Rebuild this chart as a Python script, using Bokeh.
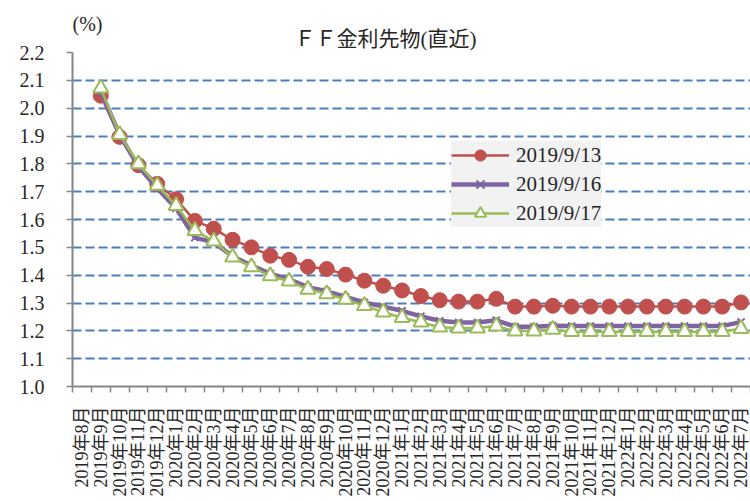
import math
from bokeh.plotting import figure
from bokeh.models import Range1d, FixedTicker, Title, PrintfTickFormatter, ColumnDataSource
from bokeh.embed import file_html
from bokeh.resources import INLINE

# ---- data ----
months = []
for yr, m0, m1 in [(2019, 8, 12), (2020, 1, 12), (2021, 1, 12), (2022, 1, 7)]:
    for m in range(m0, m1 + 1):
        months.append(f"{yr}年{m}月")

nan = float("nan")
s_0913 = [nan, 2.045, 1.897, 1.795, 1.728, 1.673, 1.595, 1.567, 1.527, 1.500, 1.470,
          1.455, 1.430, 1.422, 1.402, 1.380, 1.362, 1.345, 1.325, 1.310, 1.305,
          1.305, 1.315, 1.287, 1.287, 1.290, 1.287, 1.287, 1.287, 1.287, 1.287,
          1.287, 1.287, 1.287, 1.287, 1.302]
s_0916 = [nan, 2.060, 1.905, 1.790, 1.712, 1.640, 1.535, 1.518, 1.468, 1.435, 1.405,
          1.385, 1.357, 1.342, 1.322, 1.302, 1.287, 1.272, 1.252, 1.236, 1.230,
          1.230, 1.238, 1.215, 1.215, 1.218, 1.217, 1.217, 1.217, 1.217, 1.217,
          1.217, 1.217, 1.217, 1.217, 1.232]
s_0917 = [nan, 2.072, 1.905, 1.800, 1.722, 1.650, 1.560, 1.522, 1.465, 1.430, 1.397,
          1.378, 1.349, 1.333, 1.313, 1.290, 1.267, 1.247, 1.231, 1.213, 1.210,
          1.210, 1.217, 1.199, 1.199, 1.205, 1.197, 1.197, 1.197, 1.197, 1.197,
          1.197, 1.197, 1.197, 1.197, 1.208]
series_names = ["2019/9/13", "2019/9/16", "2019/9/17"]
title_text = "ＦＦ金利先物(直近)"
unit_text = "(%)"
y_ticks = [round(1.0 + 0.1 * i, 1) for i in range(13)]

# ---- styling ----
SERIF = "'Liberation Serif', 'Noto Sans CJK JP'"
AXIS_GRAY = "#868686"
TEXT = "#262626"

n = len(months)
xs = [i + 0.5 for i in range(n)]
src = ColumnDataSource(dict(x=xs, a=s_0913, b=s_0916, c=s_0917))

p = figure(width=750, height=501, output_backend="svg", toolbar_location=None,
           x_range=Range1d(0, n), y_range=Range1d(1.0, 2.2),
           min_border_left=72, min_border_right=0, min_border_top=52, min_border_bottom=115)
p.outline_line_color = None
p.background_fill_color = "white"
p.border_fill_color = "white"

# unit text (outermost title row)
p.title.text = unit_text
p.title.align = "left"
p.title.offset = 0
p.title.text_font = SERIF
p.title.text_font_size = "20px"
p.title.text_font_style = "normal"
p.title.text_color = TEXT
p.title.standoff = -22

# chart title (row nearest the frame)
p.add_layout(Title(text=title_text, align="left", offset=222, text_font=SERIF,
                   text_font_size="21px", text_font_style="normal", text_color=TEXT,
                   standoff=3), "above")

# grid
p.xgrid.visible = False
p.ygrid.ticker = FixedTicker(ticks=y_ticks[1:])
p.ygrid.grid_line_color = "#4A7EBB"
p.ygrid.grid_line_width = 2
p.ygrid.grid_line_dash = "9 4"

# y axis
ya = p.yaxis[0]
ya.ticker = FixedTicker(ticks=y_ticks)
ya.formatter = PrintfTickFormatter(format="%.1f")
ya.axis_line_color = AXIS_GRAY
ya.axis_line_width = 2
ya.major_tick_line_color = AXIS_GRAY
ya.major_tick_line_width = 1.5
ya.major_tick_out = 6
ya.major_tick_in = 0
ya.minor_tick_line_color = None
ya.major_label_standoff = 22
ya.major_label_text_font = SERIF
ya.major_label_text_font_size = "20px"
ya.major_label_text_color = TEXT

# x axis
xa = p.xaxis[0]
xa.ticker = FixedTicker(ticks=xs, minor_ticks=list(range(n + 1)))
xa.major_label_overrides = {x: m for x, m in zip(xs, months)}
xa.major_label_orientation = math.pi / 2
xa.axis_line_color = AXIS_GRAY
xa.axis_line_width = 2
xa.major_tick_line_color = None
xa.major_tick_out = 0
xa.major_tick_in = 0
xa.minor_tick_line_color = AXIS_GRAY
xa.minor_tick_line_width = 1.5
xa.minor_tick_out = 6
xa.minor_tick_in = 0
xa.major_label_standoff = 14
xa.major_label_text_font = SERIF
xa.major_label_text_font_size = "18px"
xa.major_label_text_color = TEXT

# series
RED, PURPLE, GREEN = "#C0504D", "#8064A2", "#9BBB59"
p.line("x", "a", source=src, line_color=RED, line_width=2.5, legend_label=series_names[0])
p.scatter("x", "a", source=src, marker="circle", size=15, fill_color=RED, line_color=RED,
          legend_label=series_names[0])
p.line("x", "b", source=src, line_color=PURPLE, line_width=4.5, legend_label=series_names[1])
p.scatter("x", "b", source=src, marker="x", size=10, line_color=PURPLE, line_width=2,
          legend_label=series_names[1])
p.line("x", "c", source=src, line_color=GREEN, line_width=2.5, legend_label=series_names[2])
p.scatter("x", "c", source=src, marker="triangle", size=15, fill_color="white",
          line_color=GREEN, line_width=2, legend_label=series_names[2])

# legend
lg = p.legend[0]
lg.location = (379, 159)
lg.background_fill_color = "#F2F2F2"
lg.background_fill_alpha = 1
lg.border_line_color = None
lg.label_text_font = SERIF
lg.label_text_font_size = "21px"
lg.label_text_color = TEXT
lg.glyph_width = 58
lg.glyph_height = 28
lg.label_standoff = 7
lg.label_height = 28
lg.padding = 4
lg.spacing = 1
lg.margin = 0

open("out.html", "w").write(file_html(p, INLINE))
